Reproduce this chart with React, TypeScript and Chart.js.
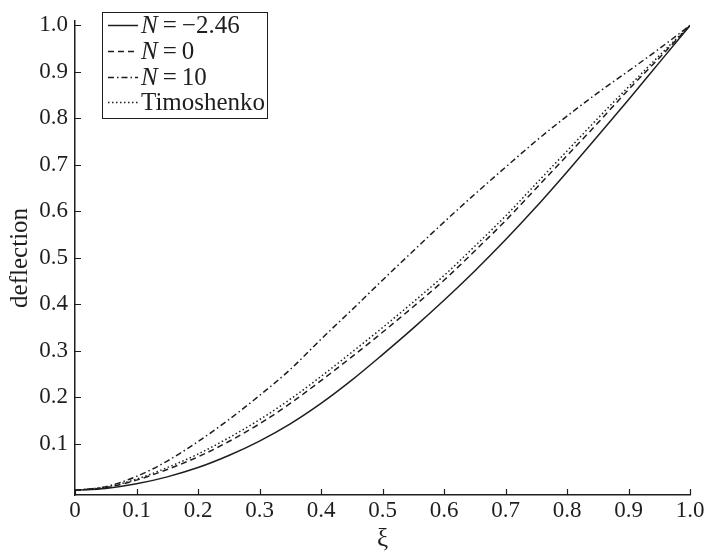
import React, { useEffect, useRef } from "react";
import { Chart, registerables } from "chart.js";

Chart.register(...registerables);

const xiValues = [0, 0.05, 0.1, 0.15, 0.2, 0.25, 0.3, 0.35, 0.4, 0.45, 0.5, 0.55, 0.6, 0.65, 0.7, 0.75, 0.8, 0.85, 0.9, 0.95, 1.0];
const seriesNm246 = [0, 0.004, 0.014, 0.029, 0.049, 0.075, 0.106, 0.143, 0.187, 0.237, 0.292, 0.349, 0.409, 0.472, 0.539, 0.61, 0.685, 0.762, 0.84, 0.92, 1.0];
const seriesN0 = [0, 0.006, 0.022, 0.045, 0.072, 0.105, 0.143, 0.187, 0.236, 0.287, 0.34, 0.395, 0.452, 0.515, 0.58, 0.65, 0.72, 0.79, 0.862, 0.93, 1.0];
const seriesN10 = [0, 0.008, 0.03, 0.063, 0.105, 0.152, 0.204, 0.26, 0.325, 0.388, 0.452, 0.515, 0.577, 0.637, 0.695, 0.752, 0.805, 0.855, 0.902, 0.95, 1.0];
const seriesTimoshenko = [0, 0.007, 0.024, 0.049, 0.078, 0.113, 0.152, 0.196, 0.245, 0.297, 0.35, 0.405, 0.462, 0.525, 0.59, 0.66, 0.73, 0.8, 0.868, 0.935, 1.0];

const xTickValues = [0, 0.1, 0.2, 0.3, 0.4, 0.5, 0.6, 0.7, 0.8, 0.9, 1.0];
const yTickValues = [0.1, 0.2, 0.3, 0.4, 0.5, 0.6, 0.7, 0.8, 0.9, 1.0];

const legendItems = [
  { italic: "N", rest: "\u2009=\u2009\u22122.46", dash: [] as number[] },
  { italic: "N", rest: "\u2009=\u20090", dash: [6, 4] },
  { italic: "N", rest: "\u2009=\u200910", dash: [6, 3, 1.5, 3] },
  { italic: "", rest: "Timoshenko", dash: [1.5, 2.5] },
];

const FONT = "'Liberation Serif', 'DejaVu Serif', serif";
const INK = "#1e1e1e";

const fmt = (v: number) => (Math.abs(v) < 1e-9 ? "0" : v.toFixed(1));

export default function App() {
  const ref = useRef<HTMLCanvasElement | null>(null);

  useEffect(() => {
    document.body.style.margin = "0";
    const canvas = ref.current;
    if (!canvas) return;

    const mk = (label: string, data: number[], dash: number[]) => ({
      label,
      data: xiValues.map((x, i) => ({ x, y: data[i] })),
      borderColor: INK,
      borderWidth: 1.5,
      borderDash: dash,
      pointRadius: 0,
      fill: false,
      tension: 0,
      cubicInterpolationMode: "monotone" as const,
    });

    const innerTicks = {
      id: "innerTicks",
      afterDraw(chart: any) {
        const ctx = chart.ctx;
        const xs = chart.scales.x;
        const ys = chart.scales.y;
        ctx.save();
        ctx.strokeStyle = INK;
        ctx.lineWidth = 1.2;
        ctx.beginPath();
        xTickValues.forEach((v) => {
          const px = Math.round(xs.getPixelForValue(v)) + 0.5;
          ctx.moveTo(px, xs.top);
          ctx.lineTo(px, xs.top - 6);
        });
        yTickValues.forEach((v) => {
          const py = Math.round(ys.getPixelForValue(v)) + 0.5;
          ctx.moveTo(ys.right, py);
          ctx.lineTo(ys.right + 6, py);
        });
        ctx.stroke();

        // legend
        const left = 102, top = 12, w = 165, h = 106;
        ctx.fillStyle = "#fff";
        ctx.fillRect(left, top, w, h);
        ctx.lineWidth = 1;
        ctx.strokeRect(left + 0.5, top + 0.5, w, h);
        const rowY = [25, 51, 77, 102];
        legendItems.forEach((it, i) => {
          const y = rowY[i];
          ctx.beginPath();
          ctx.setLineDash(it.dash);
          ctx.lineWidth = 1.5;
          ctx.moveTo(108, y + 0.5);
          ctx.lineTo(138, y + 0.5);
          ctx.stroke();
          ctx.setLineDash([]);
          ctx.fillStyle = INK;
          ctx.textBaseline = "middle";
          ctx.textAlign = "left";
          let x = 141;
          if (it.italic) {
            ctx.font = `italic 25px ${FONT}`;
            ctx.fillText(it.italic, x, y + 1);
            x += ctx.measureText(it.italic).width;
          }
          ctx.font = `25px ${FONT}`;
          ctx.fillText(it.rest, x, y + 1);
        });
        ctx.restore();
      },
    };

    const chart = new Chart(canvas, {
      type: "line",
      data: {
        datasets: [
          mk("N=−2.46", seriesNm246, []),
          mk("N=0", seriesN0, [6, 4]),
          mk("N=10", seriesN10, [6, 3, 1.5, 3]),
          mk("Timoshenko", seriesTimoshenko, [1.5, 2.5]),
        ],
      },
      options: {
        animation: false,
        responsive: false,
        maintainAspectRatio: false,
        layout: { padding: { top: 10, right: 18, left: 0, bottom: 0 } },
        plugins: {
          legend: { display: false },
          tooltip: { enabled: false },
        },
        scales: {
          x: {
            type: "linear",
            min: 0,
            max: 1,
            grid: { display: false, drawTicks: false },
            border: { display: true, color: INK, width: 1.5 },
            afterBuildTicks: (s: any) => {
              s.ticks = xTickValues.map((v) => ({ value: v }));
            },
            afterFit: (s: any) => {
              s.height = 59;
            },
            ticks: {
              color: INK,
              font: { family: FONT, size: 23 },
              padding: 2,
              maxRotation: 0,
              autoSkip: false,
              callback: (v: any) => fmt(Number(v)),
            },
            title: {
              display: true,
              text: "ξ",
              color: INK,
              font: { family: FONT, size: 25 },
              padding: { top: 0, bottom: 0 },
            },
          },
          y: {
            type: "linear",
            min: -0.01,
            max: 1.01,
            grid: { display: false, drawTicks: false },
            border: { display: true, color: INK, width: 1.5 },
            afterBuildTicks: (s: any) => {
              s.ticks = yTickValues.map((v) => ({ value: v }));
            },
            afterFit: (s: any) => {
              s.width = 75;
            },
            ticks: {
              color: INK,
              font: { family: FONT, size: 23 },
              padding: 7,
              autoSkip: false,
              callback: (v: any) => fmt(Number(v)),
            },
            title: {
              display: true,
              text: "deflection",
              color: INK,
              font: { family: FONT, size: 25 },
              padding: { top: 5, bottom: 2 },
            },
          },
        },
      },
      plugins: [innerTicks],
    });

    return () => chart.destroy();
  }, []);

  return (
    <div style={{ width: 708, height: 554, background: "#fff" }}>
      <canvas ref={ref} width={708} height={554} style={{ display: "block", width: 708, height: 554 }} />
    </div>
  );
}
